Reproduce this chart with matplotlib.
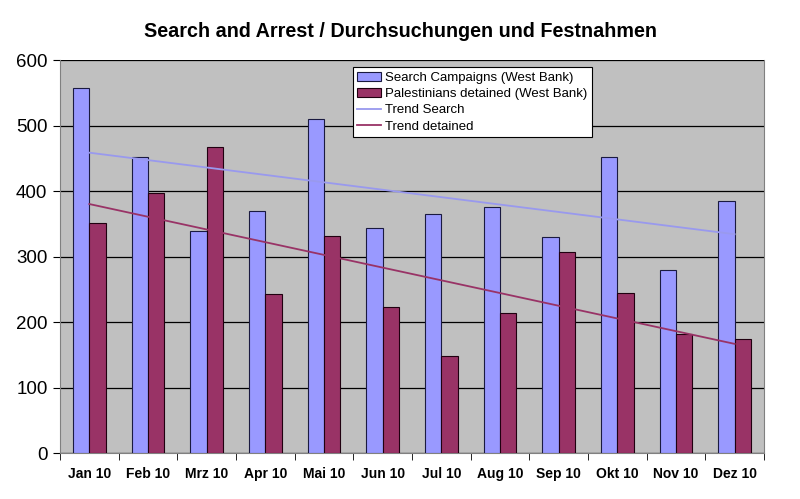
import numpy as np
import matplotlib
matplotlib.use("Agg")
import matplotlib.pyplot as plt
from matplotlib.patches import Patch
from matplotlib.lines import Line2D

plt.rcParams["font.family"] = ["Liberation Sans", "DejaVu Sans"]

months = ["Jan 10", "Feb 10", "Mrz 10", "Apr 10", "Mai 10", "Jun 10",
          "Jul 10", "Aug 10", "Sep 10", "Okt 10", "Nov 10", "Dez 10"]
search = [558, 452, 339, 370, 511, 344, 366, 376, 330, 453, 280, 385]
detained = [352, 397, 468, 244, 332, 223, 149, 214, 308, 245, 182, 175]

c_search = "#9999FF"
c_det = "#993366"

fig = plt.figure(figsize=(8, 4.99), dpi=100)
fig.patch.set_facecolor("white")
ax = fig.add_axes([0.075, 0.0912, 0.88, 0.7876])
ax.set_facecolor("#C0C0C0")

x = np.arange(len(months))
w = 0.28
ax.bar(x - w / 2, search, w, color=c_search, edgecolor="#1a1a40", lw=0.8, zorder=3)
ax.bar(x + w / 2, detained, w, color=c_det, edgecolor="#200010", lw=0.8, zorder=3)

# linear trends (like Excel trendlines)
ps = np.polyfit(x, search, 1)
pd_ = np.polyfit(x, detained, 1)
ax.plot(x, np.polyval(ps, x), color="#9999EE", lw=1.3, zorder=4)
ax.plot(x, np.polyval(pd_, x), color="#993366", lw=1.3, zorder=4)

ax.set_xlim(-0.5, len(months) - 0.5)
ax.set_ylim(0, 600)
ax.set_yticks(range(0, 601, 100))
ax.yaxis.grid(True, color="black", lw=0.9, zorder=1)
ax.tick_params(axis="y", labelsize=13.5, length=5, direction="out", pad=4)

ax.set_xticks(x)
ax.set_xticklabels(months, fontsize=10, fontweight="bold")
ax.set_xticks(np.arange(-0.5, len(months)), minor=True)
ax.tick_params(axis="x", which="major", length=0, pad=10)
ax.tick_params(axis="x", which="minor", length=5, direction="out")

ax.spines["top"].set_visible(False)
for s in ["right", "left", "bottom"]:
    ax.spines[s].set_color("#808080")

fig.text(0.5, 0.936, "Search and Arrest / Durchsuchungen und Festnahmen",
         ha="center", va="center", fontsize=14.2, fontweight="bold")

handles = [
    Patch(facecolor=c_search, edgecolor="#1a1a40", lw=0.8),
    Patch(facecolor=c_det, edgecolor="#200010", lw=0.8),
    Line2D([0], [0], color="#9999EE", lw=1.3),
    Line2D([0], [0], color="#993366", lw=1.3),
]
labels = ["Search Campaigns (West Bank)", "Palestinians detained (West Bank)",
          "Trend Search", "Trend detained"]
leg = ax.legend(handles, labels, loc="upper left", bbox_to_anchor=(0.416, 0.983),
                fontsize=9.5, frameon=True, fancybox=False, framealpha=1,
                edgecolor="black", borderpad=0.35, labelspacing=0.3,
                handlelength=1.8, handletextpad=0.3, borderaxespad=0)
leg.get_frame().set_linewidth(0.8)
leg.set_zorder(5)

fig.savefig("out.png", dpi=100, facecolor="white")
